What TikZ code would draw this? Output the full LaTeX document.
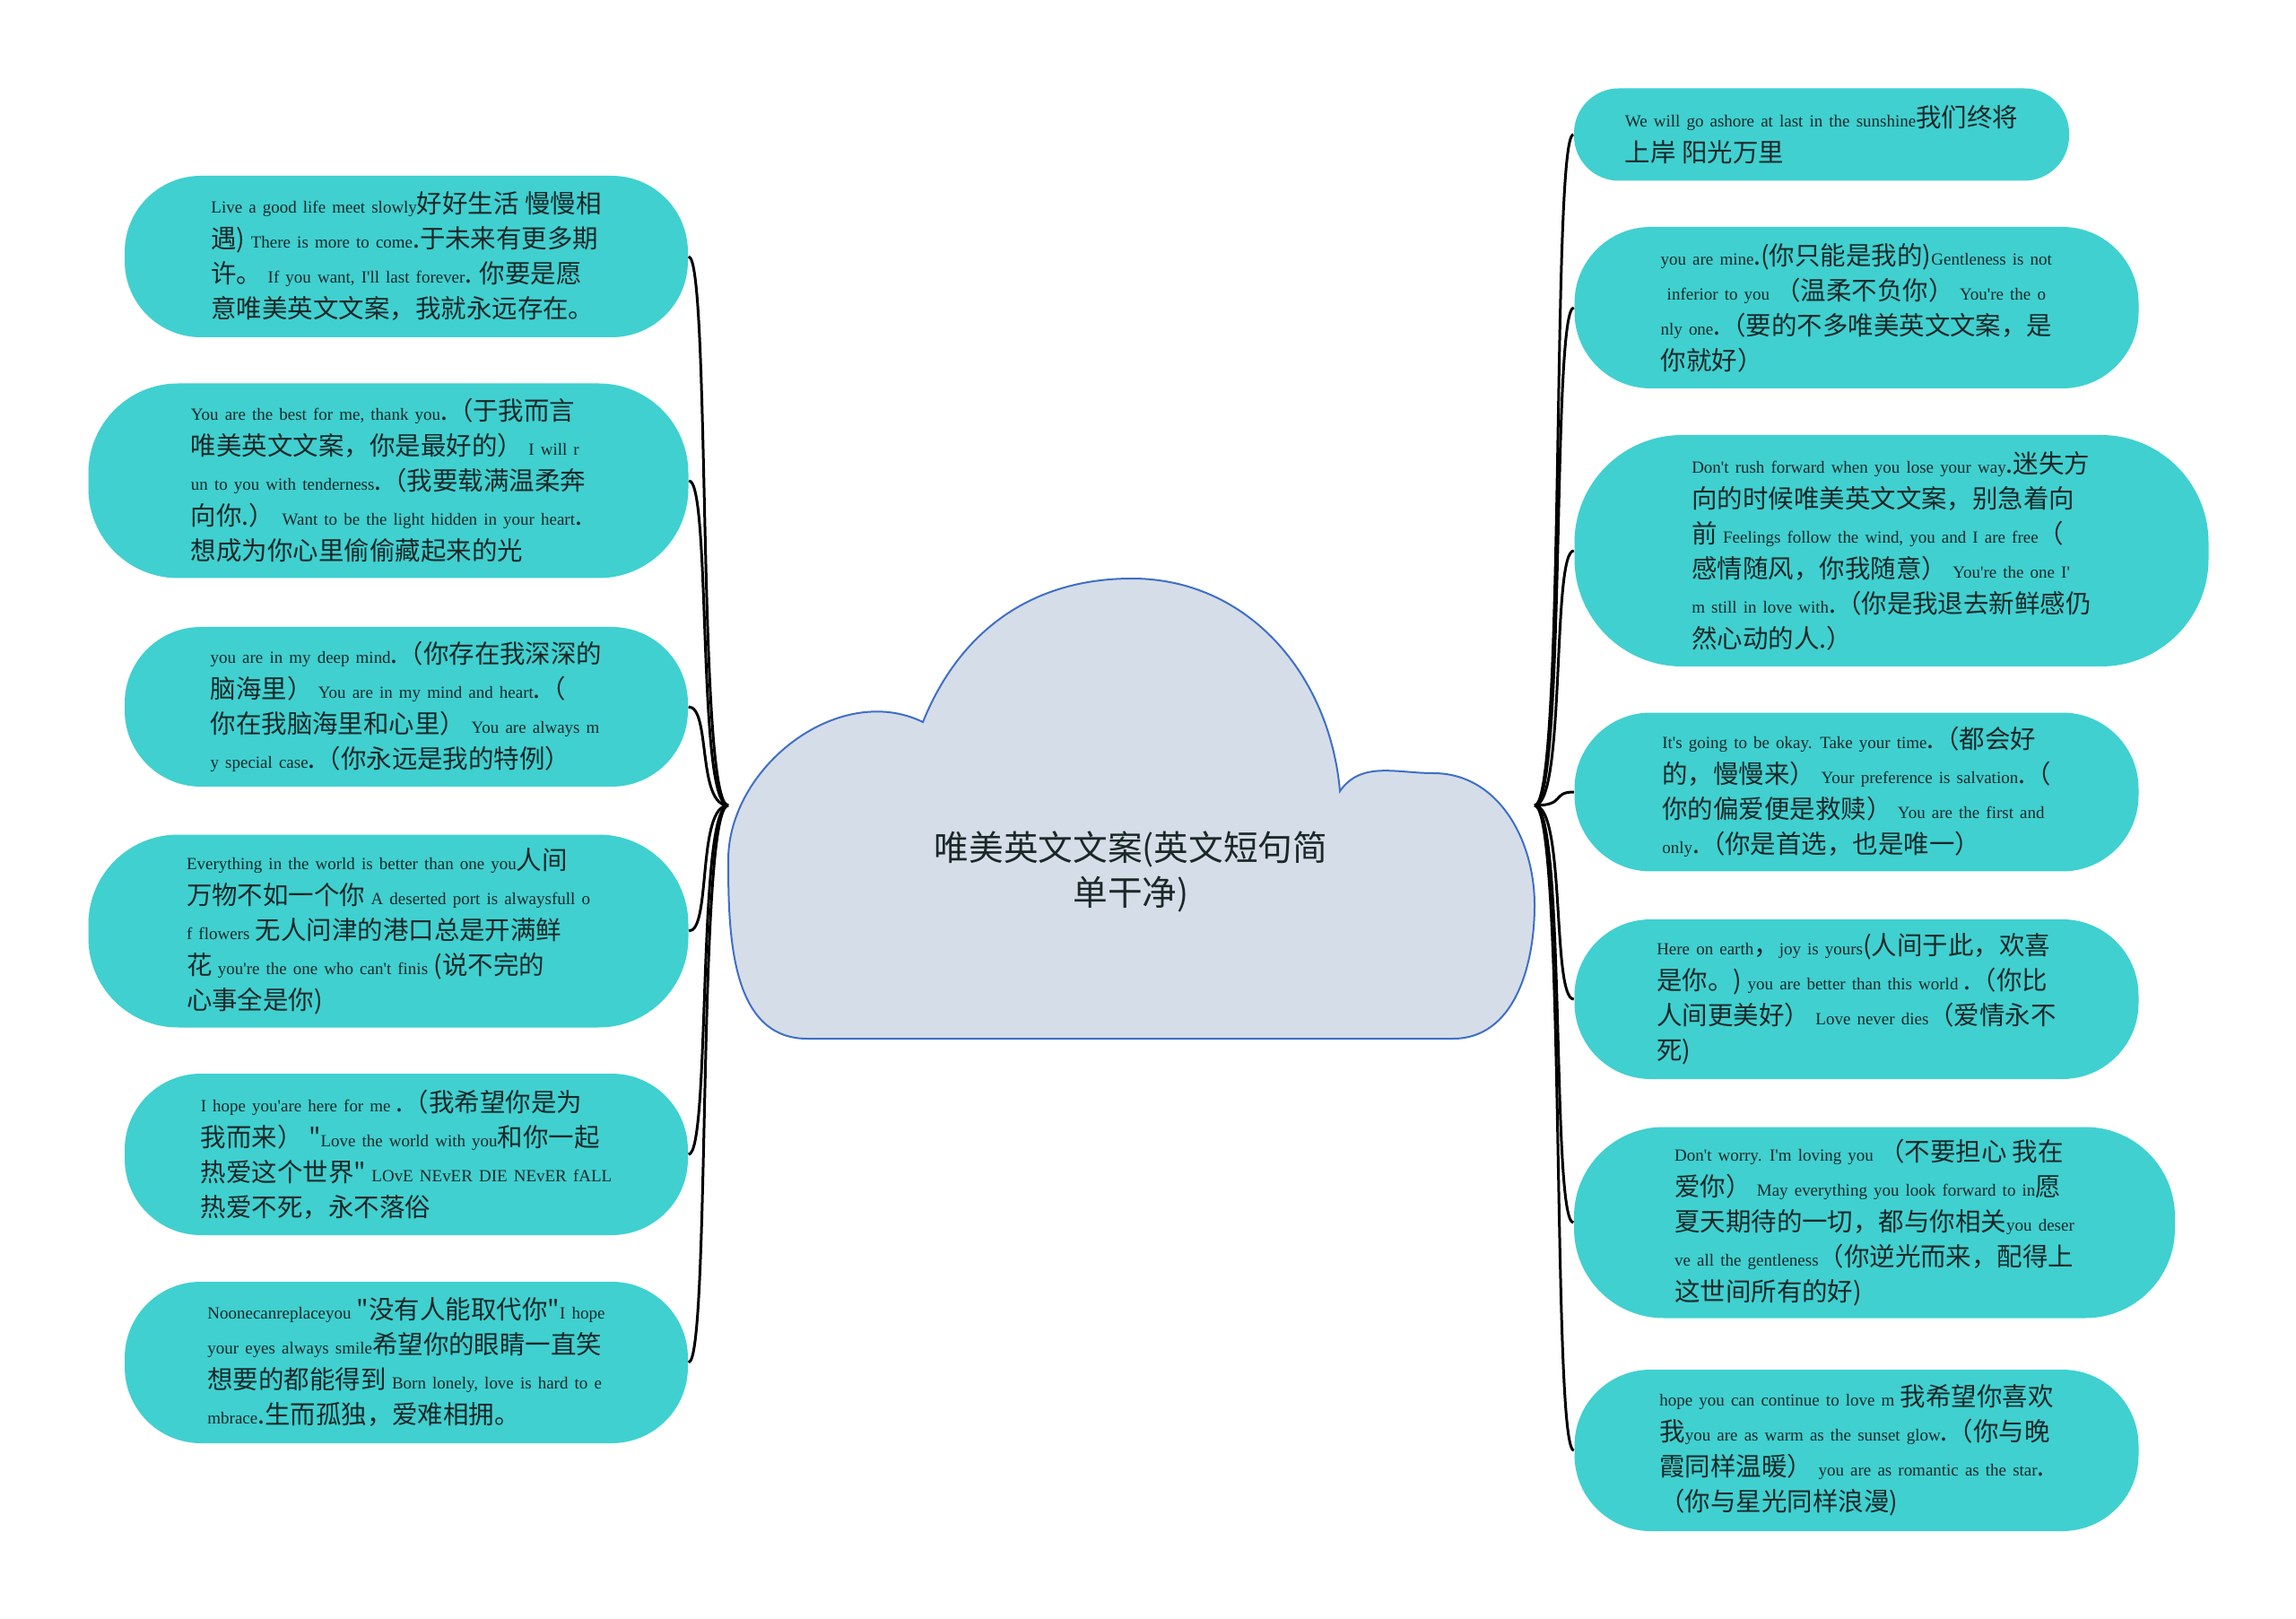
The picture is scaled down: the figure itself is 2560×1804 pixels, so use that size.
\documentclass[tikz,border=0pt]{standalone}
\usepackage{fontspec}
\setmainfont{Noto Sans CJK SC}[Ligatures=TeXOff]
\newfontfamily\enfont{Liberation Serif}[WordSpace=1.5]
\newcommand{\en}[1]{{\enfont\fontsize{5.4}{6}\selectfont #1}}
\definecolor{leafc}{HTML}{40D0D0}
\definecolor{cloudc}{HTML}{D5DDE8}
\definecolor{cloudline}{HTML}{3F6FC8}
\definecolor{textc}{HTML}{1A2828}
\begin{document}
\begin{tikzpicture}[
    x=0.1mm, y=0.1mm,
    leaf/.style 2 args={fill=leafc, text=textc, align=left, inner sep=0pt,
      minimum width=#1, minimum height=#2, rounded corners=8.5mm,
      font=\fontsize{8.1}{11.1}\selectfont},
    link/.style={line width=0.3mm, black}
    ]
  \useasboundingbox (0,0) rectangle (2560,1804);
  % central cloud
  \draw[fill=cloudc, draw=cloudline, line width=0.2mm]
    (900,646) -- (1620,646) to[out=0,in=270] (1711,795) to[out=90,in=0] (1598,942)
    to[out=180,in=55] (1494,922) to[out=95,in=0] (1262,1159) to[out=180,in=68] (1029,999)
    to[out=154,in=90] (812,845) to[out=270,in=180] cycle;
  \node[text=textc, align=center, font=\fontsize{11}{14}\selectfont] (root) at (1261,832)
    {唯美英文文案(英文短句简\\单干净)};
  \coordinate (lroot) at (812,906);
  \coordinate (rroot) at (1711,906);
  % left side
  \node[leaf={62.8mm}{18mm}] (l1) at (453,1518)
    {\en{Live a good life meet slowly}好好生活 慢慢相\\
     遇) \en{There is more to come}.于未来有更多期\\
     许。 \en{If you want, I'll last forever}. 你要是愿\\
     意唯美英文文案，我就永远存在。};
  \node[leaf={66.9mm}{21.7mm}, rounded corners=10mm] (l2) at (433,1268)
    {\en{You are the best for me, thank you}.（于我而言\\
     唯美英文文案，你是最好的） \en{I will r}\\
     \en{un to you with tenderness}.（我要载满温柔奔\\
     向你.） \en{Want to be the light hidden in your heart}.\\
     想成为你心里偷偷藏起来的光};
  \node[leaf={62.8mm}{17.8mm}] (l3) at (453,1016)
    {\en{you are in my deep mind}.（你存在我深深的\\
     脑海里） \en{You are in my mind and heart}.（\\
     你在我脑海里和心里） \en{You are always m}\\
     \en{y special case}.（你永远是我的特例）};
  \node[leaf={66.9mm}{21.5mm}, rounded corners=10mm] (l4) at (433,766)
    {\en{Everything in the world is better than one you}人间\\
     万物不如一个你 \en{A deserted port is alwaysfull o}\\
     \en{f flowers} 无人问津的港口总是开满鲜\\
     花 \en{you're the one who can't finis} (说不完的\\
     心事全是你)};
  \node[leaf={62.8mm}{18mm}] (l5) at (453,517)
    {\en{I hope you'are here for me} .（我希望你是为\\
     我而来） "\en{Love the world with you}和你一起\\
     热爱这个世界" \en{LOvE NEvER DIE NEvER fALL}\\
     热爱不死，永不落俗};
  \node[leaf={62.8mm}{18mm}] (l6) at (453,285)
    {\en{Noonecanreplaceyou} "没有人能取代你"\en{I hope}\\
     \en{your eyes always smile}希望你的眼睛一直笑\\
     想要的都能得到 \en{Born lonely, love is hard to e}\\
     \en{mbrace}.生而孤独，爱难相拥。};
  % right side
  \node[leaf={55.2mm}{10.3mm}, rounded corners=5mm] (r1) at (2031,1654)
    {\en{We will go ashore at last in the sunshine}我们终将\\
     上岸 阳光万里};
  \node[leaf={62.9mm}{18mm}] (r2) at (2070,1461)
    {\en{you are mine}.(你只能是我的)\en{Gentleness is not}\\
     \en{\ inferior to you} （温柔不负你） \en{You're the o}\\
     \en{nly one}.（要的不多唯美英文文案，是\\
     你就好）};
  \node[leaf={70.7mm}{25.8mm}, rounded corners=12mm] (r3) at (2109,1190)
    {\en{Don't rush forward when you lose your way}.迷失方\\
     向的时候唯美英文文案，别急着向\\
     前 \en{Feelings follow the wind, you and I are free}（\\
     感情随风，你我随意） \en{You're the one I'}\\
     \en{m still in love with}.（你是我退去新鲜感仍\\
     然心动的人.）};
  \node[leaf={62.9mm}{17.7mm}] (r4) at (2070,921)
    {\en{It's going to be okay. Take your time}.（都会好\\
     的，慢慢来） \en{Your preference is salvation}.（\\
     你的偏爱便是救赎） \en{You are the first and}\\
     \en{only}.（你是首选，也是唯一）};
  \node[leaf={62.9mm}{17.8mm}] (r5) at (2070,690)
    {\en{Here on earth}，\en{joy is yours}(人间于此，欢喜\\
     是你。) \en{you are better than this world} .（你比\\
     人间更美好） \en{Love never dies}（爱情永不\\
     死)};
  \node[leaf={67mm}{21.3mm}, rounded corners=10mm] (r6) at (2090,441)
    {\en{Don't worry. I'm loving you} （不要担心 我在\\
     爱你） \en{May everything you look forward to in}愿\\
     夏天期待的一切，都与你相关\en{you deser}\\
     \en{ve all the gentleness}（你逆光而来，配得上\\
     这世间所有的好)};
  \node[leaf={62.9mm}{18mm}] (r7) at (2070,187)
    {\en{hope you can continue to love m} 我希望你喜欢\\
     我\en{you are as warm as the sunset glow}.（你与晚\\
     霞同样温暖） \en{you are as romantic as the star}.\\
     （你与星光同样浪漫)};
  % connectors
  \foreach \n in {l1,l2,l3,l4,l5,l6}
    \draw[link] (lroot) .. controls +(-35,0) and +(25,0) .. (\n.east);
  \foreach \n in {r1,r2,r3,r4,r5,r6,r7}
    \draw[link] (rroot) .. controls +(35,0) and +(-25,0) .. (\n.west);
\end{tikzpicture}
\end{document}
